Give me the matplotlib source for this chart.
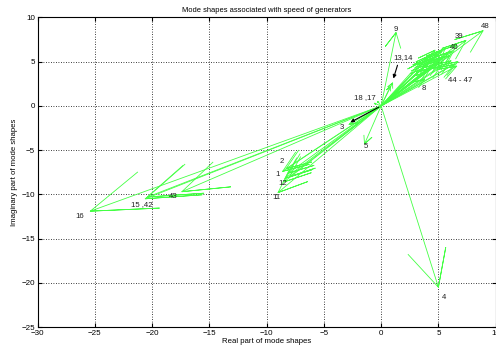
import numpy as np
import matplotlib.pyplot as plt

plt.rcParams['font.family'] = ['Liberation Sans', 'DejaVu Sans']

# mode shape tips (real, imag) per generator
gen_re = [-8.1, -8.3, -2.8, 5.0, -1.45, -8.0, -8.6, 3.8, 1.3, -8.4,
          -9.0, -8.5, 1.0, 0.8, -20.6, -25.4, -0.6, -0.3,
          4.2, 4.6, 5.0, 4.4, 5.3, 3.8, 4.9, 5.5, 4.0, 3.6, 5.8, 4.7,
          5.1, 3.4, 4.3, 5.6, 6.0, 3.9, 4.8, 5.2, 7.4, 6.6, 6.2,
          -20.4, -17.4, 6.7, 6.4, 6.6, 6.1, 8.9]
gen_im = [-7.6, -7.1, -2.1, -20.5, -4.3, -8.0, -7.4, 3.0, 8.3, -8.2,
          -9.8, -8.6, 2.6, 2.2, -10.5, -11.9, 0.3, 0.5,
          5.0, 5.4, 5.9, 5.8, 6.2, 4.6, 4.8, 5.6, 5.4, 4.2, 6.0, 6.3,
          5.2, 4.9, 4.3, 6.5, 5.7, 3.8, 5.6, 4.5, 7.4, 6.9, 6.2,
          -10.3, -9.7, 5.0, 4.7, 4.5, 5.1, 8.5]

labels = ['48', '39', '40', '44 - 47', '8', '9', '13,14', '18 ,17', '3', '5',
          '2', '1', '12', '11', '16', '15 ,42', '43', '4']
label_x = [8.7, 6.4, 6.0, 5.8, 3.5, 1.1, 1.1, -2.4, -3.6, -1.5,
           -8.9, -9.2, -9.0, -9.5, -26.7, -21.8, -18.5, 5.3]
label_y = [9.0, 7.9, 6.6, 2.9, 2.0, 8.6, 5.5, 1.0, -2.4, -4.6,
           -6.3, -7.8, -8.8, -10.3, -12.5, -11.2, -10.2, -21.7]

# black pointer arrows (start -> end)
ptr_start = [(1.5, 4.9), (0.0, 0.0)]
ptr_end = [(1.0, 2.8), (-2.9, -2.0)]

fig = plt.figure(figsize=(4.96, 3.47), dpi=100)
ax = fig.add_axes([0.0758, 0.0576, 0.9235, 0.892])

z = np.array(gen_re) + 1j * np.array(gen_im)
# compass style arrow: shaft + two head lines
a = np.array([0, 1, 0.8, 1, 0.8])
b = np.array([0, 0, 0.08, 0, -0.08])
for zz in z:
    pts = (a + 1j * b) * zz
    ax.plot(pts.real, pts.imag, color='#44ff44', lw=0.6)

for s, e in zip(ptr_start, ptr_end):
    ax.annotate('', xy=e, xytext=s,
                arrowprops=dict(arrowstyle='-|>', color='black', lw=0.8,
                                mutation_scale=5))

for t, x, y in zip(labels, label_x, label_y):
    ax.text(x, y, t, fontsize=5.6, va='center', ha='left', color='#222222')

ax.set_xlim(-30, 10)
ax.set_ylim(-25, 10)
ax.set_xticks(np.arange(-30, 11, 5))
ax.set_yticks(np.arange(-25, 11, 5))
ax.grid(True, color='black', linestyle=(0, (1, 2)), lw=0.6)
ax.tick_params(direction='in', length=3, labelsize=5.8, pad=2,
               top=True, right=True)
for sp in ax.spines.values():
    sp.set_linewidth(0.8)

ax.set_title('Mode shapes associated with speed of generators', fontsize=5.4, pad=4)
ax.set_xlabel('Real part of mode shapes', fontsize=5.6, labelpad=1)
ax.set_ylabel('Imaginary part of mode shapes', fontsize=5.6, labelpad=2)

fig.savefig('out.png', dpi=100)
